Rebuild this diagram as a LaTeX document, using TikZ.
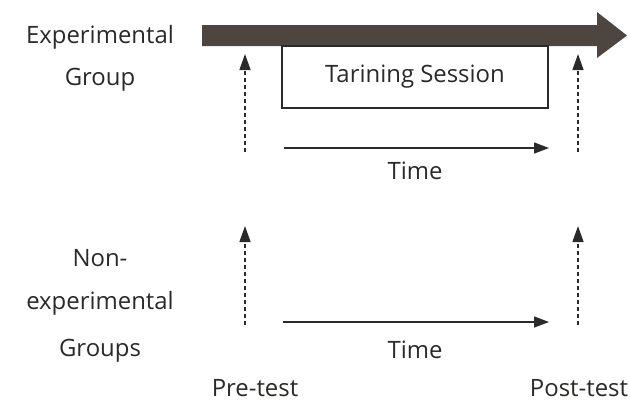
\documentclass[tikz,border=0pt]{standalone}
\usepackage{fontspec}
\setmainfont{Open Sans}
\usetikzlibrary{arrows.meta}
\definecolor{ink}{HTML}{2B2A28}
\definecolor{bar}{HTML}{4D4640}
\begin{document}
\begin{tikzpicture}[x=1bp,y=-1bp,
  lbl/.style={font=\fontsize{24}{27}\selectfont, text=ink, inner sep=0pt, anchor=center},
  testline/.style={draw=ink, line width=1.3bp, dash pattern=on 4bp off 3bp,
    -{Triangle[length=16bp,width=11bp]}},
  timeline/.style={draw=ink, line width=1.3bp, -{Triangle[length=15bp,width=11bp]}},
  sessionbox/.style={draw=ink, line width=1.2bp, minimum width=266bp, minimum height=62bp,
    inner sep=0pt, font=\fontsize{24}{27}\selectfont, text=ink}]
\useasboundingbox[fill=white] (0,0) rectangle (630,405);

% main time bar of the experimental group
\fill[bar] (202,25) -- (597,25) -- (597,12) -- (627,35.5) -- (597,58) -- (597,46) -- (202,46) -- cycle;

% group labels
\node[lbl] (expA) at (100,37) {Experimental};
\node[lbl] (expB) at (100,80) {Group};
\node[lbl] (nonA) at (100,258) {Non-};
\node[lbl] (nonB) at (100,303) {experimental};
\node[lbl] (nonC) at (100,351) {Groups};

% training session
\node[sessionbox] (session) at (415,77) {Tarining Session};

% test points and time axes
\coordinate (preTopS) at (245,152);
\coordinate (preTopE) at (245,54);
\coordinate (postTopS) at (578,152);
\coordinate (postTopE) at (578,54);
\coordinate (preBotS) at (245,325);
\coordinate (preBotE) at (245,226);
\coordinate (postBotS) at (578,325);
\coordinate (postBotE) at (578,226);
\coordinate (timeTopS) at (284,148);
\coordinate (timeTopE) at (549,148);
\coordinate (timeBotS) at (283,322);
\coordinate (timeBotE) at (549,322);

\draw[testline] (preTopS) -- (preTopE);
\draw[testline] (postTopS) -- (postTopE);
\draw[testline] (preBotS) -- (preBotE);
\draw[testline] (postBotS) -- (postBotE);
\draw[timeline] (timeTopS) -- (timeTopE);
\draw[timeline] (timeBotS) -- (timeBotE);

\node[lbl] (timeA) at (415,171) {Time};
\node[lbl] (timeB) at (415,350) {Time};
\node[lbl] (pre) at (255,388) {Pre-test};
\node[lbl] (post) at (579,388) {Post-test};
\end{tikzpicture}
\end{document}
